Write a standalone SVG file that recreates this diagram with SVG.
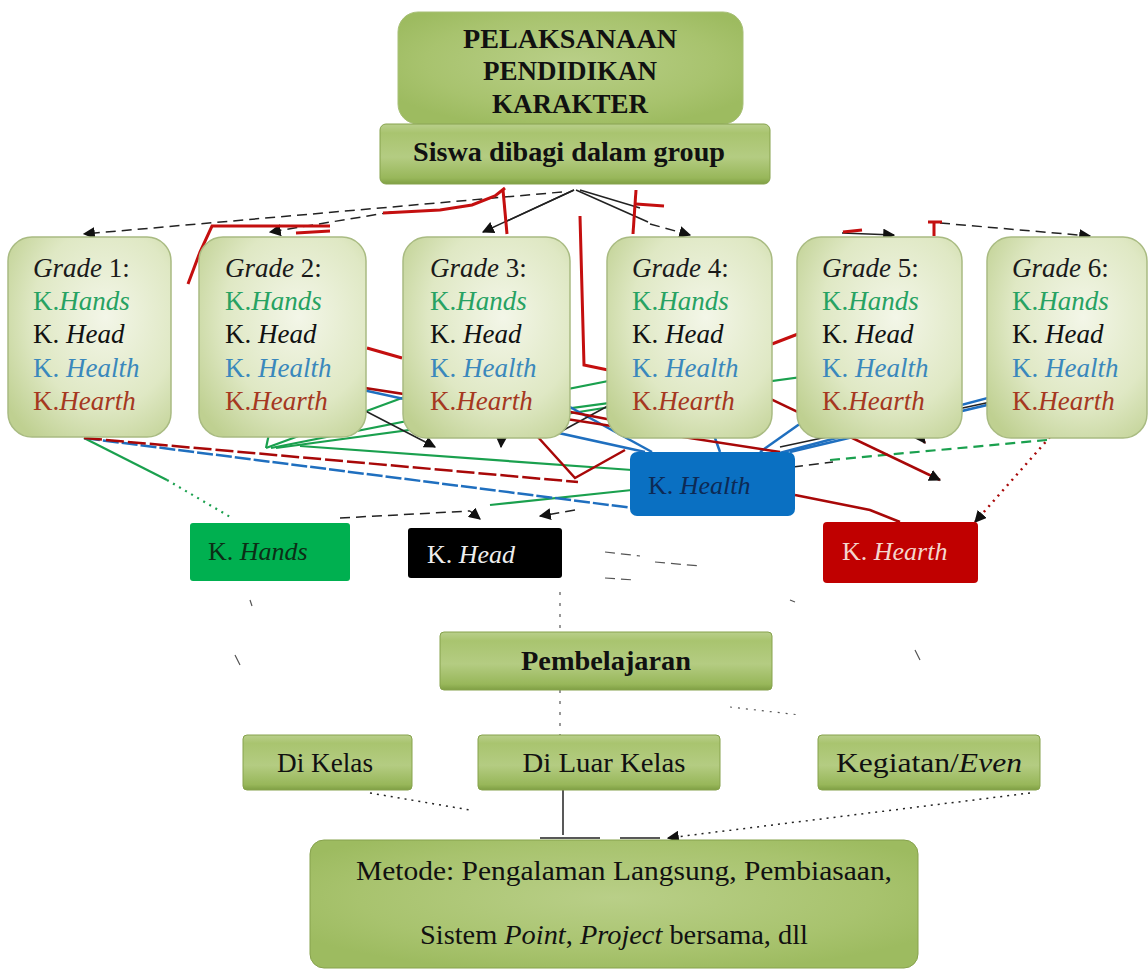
<svg xmlns="http://www.w3.org/2000/svg" width="1148" height="978" viewBox="0 0 1148 978" font-family="'Liberation Serif', 'Times New Roman', serif">
<defs>
<linearGradient id="gg" x1="0" y1="0" x2="0" y2="1">
<stop offset="0" stop-color="#b9cf8c"/>
<stop offset="0.15" stop-color="#a9c46f"/>
<stop offset="0.55" stop-color="#b4cc82"/>
<stop offset="0.9" stop-color="#98b75a"/>
<stop offset="1" stop-color="#7f9f44"/>
</linearGradient>
<radialGradient id="gt" cx="0.5" cy="0.45" r="0.6">
<stop offset="0" stop-color="#b9cf88"/>
<stop offset="0.7" stop-color="#a8c36e"/>
<stop offset="1" stop-color="#9dbb60"/>
</radialGradient>
<radialGradient id="gl" cx="0.6" cy="0.4" r="0.75">
<stop offset="0" stop-color="#f3f6e8"/>
<stop offset="0.6" stop-color="#dfe8c4"/>
<stop offset="1" stop-color="#bfd091"/>
</radialGradient>
<marker id="ah" viewBox="0 0 10 10" refX="9" refY="5" markerWidth="12" markerHeight="12" markerUnits="userSpaceOnUse" orient="auto">
<path d="M0,0 L10,5 L0,10 z" fill="#111"/>
</marker>
</defs>
<style>
text{font-family:'Liberation Serif','Times New Roman',serif;}
.tb{font-weight:bold;font-size:27px;fill:#111;text-anchor:middle;}
.gt{font-size:27px;}
.i{font-style:italic;}
.gr{fill:#1a1a1a;}
.ha{fill:#27a262;}
.he{fill:#111;}
.hl{fill:#3a88bc;}
.hr{fill:#a5381f;}
.gbox{fill:url(#gl);stroke:#a9bb82;stroke-width:1.5;}
.gbox2{fill:url(#gg);stroke:#86a24c;stroke-width:1;}
.rt{font-size:27px;fill:#111;text-anchor:middle;}
.c{fill:none;}
.red{stroke:#c40f0f;stroke-width:3;}
.red2{stroke:#a80808;stroke-width:2.5;}
.blue{stroke:#1f6fbf;stroke-width:2.5;}
.green{stroke:#1aa04e;stroke-width:2.2;}
.blk{stroke:#222;stroke-width:1.5;}
.dash{stroke-dasharray:10 6;}
.dot{stroke-dasharray:2 5;}
.faint{stroke:#555;stroke-width:1.2;}
</style>

<g id="connectors" class="c">
<path class="blk dash" d="M562,192 L84,234" marker-end="url(#ah)"/>
<path class="blk dash" d="M392,212 L270,232" marker-end="url(#ah)"/>
<path class="blk" d="M574,190 L505,222"/>
<path class="blk" d="M574,190 L483,232" marker-end="url(#ah)"/>
<path class="blk" d="M576,190 L648,222"/>
<path class="blk" d="M580,190 L640,208"/>
<path class="blk dash" d="M650,224 L690,235" marker-end="url(#ah)"/>
<path class="blk" d="M842,233 L894,235" marker-end="url(#ah)"/>
<path class="blk dash" d="M940,223 L1090,236" marker-end="url(#ah)"/>
<path class="red" d="M188,284 L200,252 L212,226 L330,226"/>
<path class="red" d="M296,233 L330,231"/>
<path class="red" d="M383,213 L440,210 L472,205 L495,196 L505,188"/>
<path class="red" d="M503,190 L507,234"/>
<path class="red" d="M580,216 L584,365 L608,370"/>
<path class="red" d="M636,190 L633,234"/>
<path class="red" d="M636,204 L664,206"/>
<path class="red" d="M843,232 L862,230"/>
<path class="red" d="M928,222 L942,222 M934,222 L934,236"/>
<path class="red" d="M367,348 L402,358"/>
<path class="red" d="M772,344 L798,334"/>
<path class="green" d="M282,372 L266,448"/>
<path class="green" d="M470,373 L266,448"/>
<path class="green" d="M674,368 L271,448"/>
<path class="green" d="M853,370 L276,448"/>
<path class="green" d="M632,470 L300,446"/>
<path class="green" d="M760,383 L560,415"/>
<path class="green" d="M84,438 L167,480"/>
<path class="green dot" d="M167,480 L232,518"/>
<path class="green dash" d="M830,460 L1047,440"/>
<path class="green" d="M632,490 L490,505"/>
<path class="blue" d="M290,374 L645,452"/>
<path class="blue" d="M506,372 L652,452"/>
<path class="blue" d="M690,368 L720,452"/>
<path class="blue" d="M879,368 L760,452"/>
<path class="blue" d="M1082,373 L772,455"/>
<path class="blue" d="M1050,390 L790,452"/>
<path class="blue" d="M84,438 L633,508" stroke-dasharray="16 3"/>
<path class="blk" d="M292,373 L435,447" marker-end="url(#ah)"/>
<path class="blk" d="M505,372 L501,447" marker-end="url(#ah)"/>
<path class="blk" d="M674,370 L560,432"/>
<path class="blk" d="M1000,400 L780,447"/>
<path class="blk dash" d="M793,467 L833,462"/>
<path class="red2" d="M300,378 L780,452"/>
<path class="red2" d="M710,370 L940,480" marker-end="url(#ah)"/>
<path class="red2" d="M870,368 L925,443" marker-end="url(#ah)"/>
<path class="red2" d="M84,438 L578,482" stroke-dasharray="18 4"/>
<path class="red2" d="M527,425 L575,478 L625,450"/>
<path class="red2" d="M560,410 L612,420"/>
<path class="red2" d="M795,495 L870,510 L900,522"/>
<path class="red2 dot" d="M1050,437 L975,522" marker-end="url(#ah)"/>
<path class="blk dash" d="M340,518 L470,511"/>
<path class="blk" d="M470,511 L480,519" marker-end="url(#ah)"/>
<path class="blk dash" d="M575,510 L540,516" marker-end="url(#ah)"/>
<path class="faint dash" d="M605,552 L640,556 M655,562 L700,566 M605,578 L635,580"/>
<path class="faint" d="M560,592 L560,632" stroke-dasharray="3 8"/>
<path class="faint" d="M560,690 L560,735" stroke-dasharray="3 8"/>
<path class="faint" d="M730,707 L800,715" stroke-dasharray="2 6"/>
<path class="faint" d="M235,655 L240,665 M250,600 L252,606 M915,650 L920,660 M790,600 L795,602"/>
<path class="blk" d="M380,753 L335,757" marker-end="url(#ah)"/>
<path class="blk" d="M858,752 L945,760" marker-end="url(#ah)"/>
<path class="blk" d="M563,790 L563,835"/>
<path class="blk dot" stroke-width="2" d="M370,793 L470,810"/>
<path class="blk dot" stroke-width="2" d="M1030,793 L668,838" marker-end="url(#ah)"/>
<path class="blk" stroke-width="2" d="M540,838 L600,838 M620,838 L660,838"/>
</g>

<g id="title">
<rect x="398" y="12" width="345" height="112" rx="20" fill="url(#gt)" stroke="#a7bf76" stroke-width="1"/>
<text class="tb" x="570" y="48" textLength="214" lengthAdjust="spacingAndGlyphs">PELAKSANAAN</text>
<text class="tb" x="570" y="80">PENDIDIKAN</text>
<text class="tb" x="570" y="113">KARAKTER</text>
</g>

<g id="siswa">
<rect x="380" y="124" width="390" height="60" rx="6" fill="url(#gg)" stroke="#86a24c" stroke-width="1"/>
<text class="tb" x="569" y="161" textLength="312" lengthAdjust="spacingAndGlyphs">Siswa dibagi dalam group</text>
</g>

<g id="grade1">
<rect class="gbox" x="8" y="237" width="163" height="200" rx="24"/>
<text class="gt" x="33" y="277"><tspan class="i gr">Grade</tspan><tspan class="gr"> 1:</tspan></text>
<text class="gt ha" x="33" y="310">K.<tspan class="i">Hands</tspan></text>
<text class="gt he" x="33" y="343">K. <tspan class="i">Head</tspan></text>
<text class="gt hl" x="33" y="377">K. <tspan class="i">Health</tspan></text>
<text class="gt hr" x="33" y="410">K.<tspan class="i">Hearth</tspan></text>
</g>
<g id="grade2">
<rect class="gbox" x="199" y="237" width="167" height="200" rx="24"/>
<text class="gt" x="225" y="277"><tspan class="i gr">Grade</tspan><tspan class="gr"> 2:</tspan></text>
<text class="gt ha" x="225" y="310">K.<tspan class="i">Hands</tspan></text>
<text class="gt he" x="225" y="343">K. <tspan class="i">Head</tspan></text>
<text class="gt hl" x="225" y="377">K. <tspan class="i">Health</tspan></text>
<text class="gt hr" x="225" y="410">K.<tspan class="i">Hearth</tspan></text>
</g>
<g id="grade3">
<rect class="gbox" x="403" y="237" width="167" height="201" rx="24"/>
<text class="gt" x="430" y="277"><tspan class="i gr">Grade</tspan><tspan class="gr"> 3:</tspan></text>
<text class="gt ha" x="430" y="310">K.<tspan class="i">Hands</tspan></text>
<text class="gt he" x="430" y="343">K. <tspan class="i">Head</tspan></text>
<text class="gt hl" x="430" y="377">K. <tspan class="i">Health</tspan></text>
<text class="gt hr" x="430" y="410">K.<tspan class="i">Hearth</tspan></text>
</g>
<g id="grade4">
<rect class="gbox" x="607" y="237" width="165" height="201" rx="24"/>
<text class="gt" x="632" y="277"><tspan class="i gr">Grade</tspan><tspan class="gr"> 4:</tspan></text>
<text class="gt ha" x="632" y="310">K.<tspan class="i">Hands</tspan></text>
<text class="gt he" x="632" y="343">K. <tspan class="i">Head</tspan></text>
<text class="gt hl" x="632" y="377">K. <tspan class="i">Health</tspan></text>
<text class="gt hr" x="632" y="410">K.<tspan class="i">Hearth</tspan></text>
</g>
<g id="grade5">
<rect class="gbox" x="797" y="237" width="165" height="201" rx="24"/>
<text class="gt" x="822" y="277"><tspan class="i gr">Grade</tspan><tspan class="gr"> 5:</tspan></text>
<text class="gt ha" x="822" y="310">K.<tspan class="i">Hands</tspan></text>
<text class="gt he" x="822" y="343">K. <tspan class="i">Head</tspan></text>
<text class="gt hl" x="822" y="377">K. <tspan class="i">Health</tspan></text>
<text class="gt hr" x="822" y="410">K.<tspan class="i">Hearth</tspan></text>
</g>
<g id="grade6">
<rect class="gbox" x="987" y="237" width="160" height="201" rx="24"/>
<text class="gt" x="1012" y="277"><tspan class="i gr">Grade</tspan><tspan class="gr"> 6:</tspan></text>
<text class="gt ha" x="1012" y="310">K.<tspan class="i">Hands</tspan></text>
<text class="gt he" x="1012" y="343">K. <tspan class="i">Head</tspan></text>
<text class="gt hl" x="1012" y="377">K. <tspan class="i">Health</tspan></text>
<text class="gt hr" x="1012" y="410">K.<tspan class="i">Hearth</tspan></text>
</g>

<g id="k-health">
<rect x="630" y="452" width="165" height="64" rx="7" fill="#0a70c2"/>
<text x="648" y="494" font-size="26" fill="#0d2a55">K. <tspan class="i">Health</tspan></text>
</g>
<g id="k-hands">
<rect x="190" y="523" width="160" height="58" rx="3" fill="#00b050"/>
<text x="208" y="560" font-size="26" fill="#0c2e16">K. <tspan class="i">Hands</tspan></text>
</g>
<g id="k-head">
<rect x="408" y="528" width="154" height="50" rx="3" fill="#000"/>
<text x="427" y="563" font-size="26" fill="#eeeeee">K. <tspan class="i">Head</tspan></text>
</g>
<g id="k-hearth">
<rect x="823" y="522" width="155" height="61" rx="4" fill="#c00000"/>
<text x="842" y="560" font-size="26" fill="#f4d6cf">K. <tspan class="i">Hearth</tspan></text>
</g>

<g id="pembelajaran">
<rect class="gbox2" x="440" y="632" width="332" height="58" rx="4"/>
<text class="tb" x="606" y="670" textLength="170" lengthAdjust="spacingAndGlyphs">Pembelajaran</text>
</g>
<g id="di-kelas">
<rect class="gbox2" x="243" y="735" width="169" height="55" rx="4"/>
<text class="rt" x="325" y="772" textLength="96" lengthAdjust="spacingAndGlyphs">Di Kelas</text>
</g>
<g id="di-luar-kelas">
<rect class="gbox2" x="478" y="735" width="242" height="55" rx="4"/>
<text class="rt" x="604" y="772" textLength="163" lengthAdjust="spacingAndGlyphs">Di Luar Kelas</text>
</g>
<g id="kegiatan">
<rect class="gbox2" x="818" y="735" width="222" height="55" rx="4"/>
<text class="rt" x="929" y="772" textLength="186" lengthAdjust="spacingAndGlyphs">Kegiatan/<tspan class="i">Even</tspan></text>
</g>
<g id="metode">
<rect x="310" y="840" width="608" height="128" rx="14" fill="url(#gt)" stroke="#86a24c" stroke-width="1"/>
<text class="rt" x="624" y="880" textLength="536" lengthAdjust="spacingAndGlyphs">Metode: Pengalaman Langsung, Pembiasaan,</text>
<text class="rt" x="614" y="944" textLength="388" lengthAdjust="spacingAndGlyphs">Sistem <tspan class="i">Point</tspan>, <tspan class="i">Project</tspan> bersama, dll</text>
</g>
</svg>
